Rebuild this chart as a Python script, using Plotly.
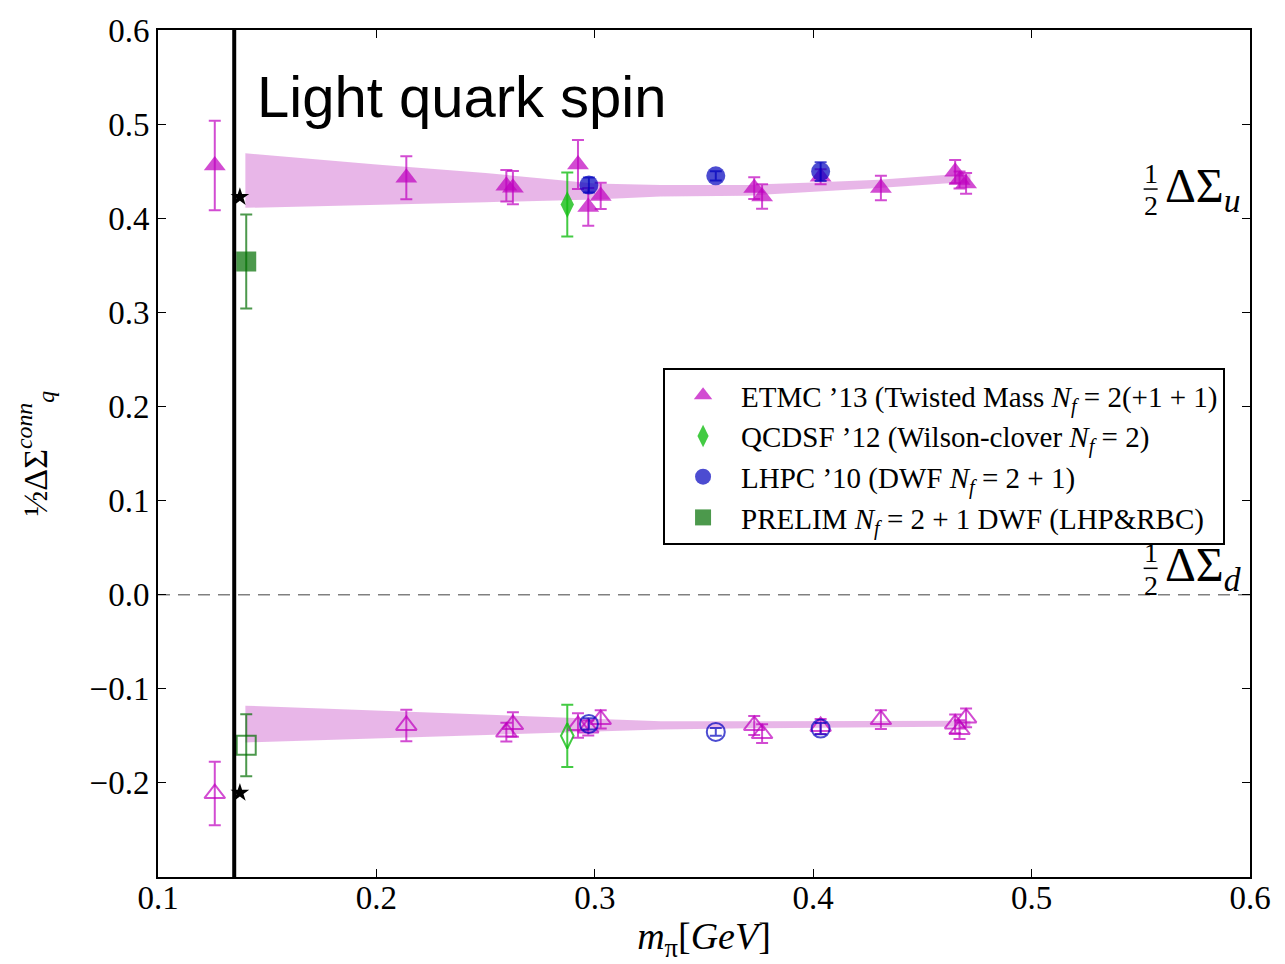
import plotly.graph_objects as go

# ---- data -------------------------------------------------------------
# ETMC '13, twisted mass (upper: u quark, lower: d quark)
etmc_mpi = [0.126, 0.2137, 0.2595, 0.2625, 0.2923, 0.297, 0.3027,
            0.373, 0.3766, 0.4034, 0.431, 0.465, 0.467, 0.470]
etmc_u = [0.456, 0.443, 0.4345, 0.4325, 0.457, 0.412, 0.4237,
          0.432, 0.423, 0.444, 0.432, 0.4495, 0.4407, 0.437]
etmc_u_err = [0.0475, 0.0228, 0.0168, 0.0177, 0.026, 0.02, 0.014,
              0.0115, 0.013, 0.008, 0.013, 0.0124, 0.009, 0.011]
etmc_d = [-0.2113, -0.139, -0.146, -0.138, -0.139, -0.1416, -0.1326,
          -0.139, -0.1476, -0.140, -0.1327, -0.1373, -0.1434, -0.131]
etmc_d_err = [0.0337, 0.0168, 0.010, 0.013, 0.013, 0.008, 0.0097,
              0.010, 0.010, 0.008, 0.010, 0.010, 0.010, 0.010]

# QCDSF '12, Wilson-clover
qcdsf_mpi = [0.2874]
qcdsf_u = [0.4145]
qcdsf_u_err = [0.034]
qcdsf_d = [-0.150]
qcdsf_d_err = [0.033]

# LHPC '10, domain wall fermions
lhpc_mpi = [0.2973, 0.3554, 0.4034]
lhpc_u = [0.4354, 0.445, 0.4496]
lhpc_u_err = [0.008, 0.005, 0.010]
lhpc_d = [-0.1373, -0.1458, -0.1423]
lhpc_d_err = [0.006, 0.004, 0.006]

# preliminary LHP&RBC, DWF at the physical point
prelim_mpi = [0.1404]
prelim_u = [0.354]
prelim_u_err = [0.050]
prelim_d = [-0.160]
prelim_d_err = [0.033]

# experimental / phenomenological values at the physical pion mass
star_mpi = [0.1375, 0.1375]
star_val = [0.4226, -0.2106]

M_PI_PHYS = 0.1349

# chiral-fit bands
band_mpi = [0.140, 0.20, 0.25, 0.30, 0.33, 0.37, 0.40, 0.43, 0.46, 0.472]
band_u_hi = [0.469, 0.457, 0.448, 0.437, 0.4354, 0.4354, 0.438, 0.441, 0.446, 0.447]
band_u_lo = [0.411, 0.414, 0.417, 0.420, 0.423, 0.424, 0.428, 0.432, 0.437, 0.438]
band_d_hi = [-0.118, -0.123, -0.1275, -0.132, -0.1345, -0.1345, -0.1345, -0.1345, -0.1345, -0.134]
band_d_lo = [-0.157, -0.1526, -0.149, -0.1455, -0.1434, -0.142, -0.1415, -0.141, -0.1405, -0.140]

x_ticks = [0.1, 0.2, 0.3, 0.4, 0.5, 0.6]
y_ticks = [-0.2, -0.1, 0.0, 0.1, 0.2, 0.3, 0.4, 0.5, 0.6]

# ---- styles -----------------------------------------------------------
MAGENTA = "rgba(191,0,191,0.7)"
BAND = "rgba(200,80,200,0.42)"
LIME = "rgba(20,190,20,0.8)"
BLUE = "rgba(0,0,190,0.7)"
DKGREEN = "rgba(0,110,0,0.7)"
SERIF = "Liberation Serif"

fig = go.Figure()


def band(xs, hi, lo):
    fig.add_trace(go.Scatter(x=xs, y=hi, mode="lines", line=dict(width=0),
                             showlegend=False, hoverinfo="skip"))
    fig.add_trace(go.Scatter(x=xs, y=lo, mode="lines", line=dict(width=0),
                             fill="tonexty", fillcolor=BAND,
                             showlegend=False, hoverinfo="skip"))


band(band_mpi, band_u_hi, band_u_lo)
band(band_mpi, band_d_hi, band_d_lo)


def points(xs, ys, errs, color, symbol, size, name=None, open_=False, group=None):
    marker = dict(symbol=symbol + ("-open" if open_ else ""), size=size,
                  color=color, line=dict(width=2, color=color) if open_ else dict(width=0))
    fig.add_trace(go.Scatter(
        x=xs, y=ys, mode="markers", name=name, legendgroup=group,
        showlegend=name is not None,
        marker=marker,
        error_y=dict(type="data", array=errs, visible=True,
                     color=color, thickness=2, width=6),
    ))


points(etmc_mpi, etmc_u, etmc_u_err, MAGENTA, "triangle-up", 19,
       "ETMC ’13 (Twisted Mass <i>N<sub>f</sub></i> = 2(+1 + 1)", group="a")
points(qcdsf_mpi, qcdsf_u, qcdsf_u_err, LIME, "diamond-tall", 19,
       "QCDSF ’12 (Wilson-clover <i>N<sub>f</sub></i> = 2)", group="b")
points(lhpc_mpi, lhpc_u, lhpc_u_err, BLUE, "circle", 19,
       "LHPC ’10 (DWF <i>N<sub>f</sub></i> = 2 + 1)", group="c")
points(prelim_mpi, prelim_u, prelim_u_err, DKGREEN, "square", 20,
       "PRELIM <i>N<sub>f</sub></i> = 2 + 1 DWF (LHP&amp;RBC)", group="d")

points(etmc_mpi, etmc_d, etmc_d_err, MAGENTA, "triangle-up", 18, open_=True)
points(qcdsf_mpi, qcdsf_d, qcdsf_d_err, LIME, "diamond-tall", 18, open_=True)
points(lhpc_mpi, lhpc_d, lhpc_d_err, BLUE, "circle", 18, open_=True)
points(prelim_mpi, prelim_d, prelim_d_err, DKGREEN, "square", 19, open_=True)

# physical pion mass
fig.add_shape(type="line", xref="x", yref="paper", x0=M_PI_PHYS, x1=M_PI_PHYS,
              y0=0, y1=1, line=dict(color="black", width=4), layer="above")
# zero line
fig.add_shape(type="line", xref="paper", yref="y", x0=0, x1=1, y0=0, y1=0,
              line=dict(color="gray", width=1.5, dash="12px,8px"), layer="below")

fig.add_trace(go.Scatter(x=star_mpi, y=star_val, mode="markers", showlegend=False,
                         marker=dict(symbol="star", size=14, color="black")))

# title inside the axes
fig.add_annotation(x=0.1444, y=0.529, xref="x", yref="y", xanchor="left",
                   yanchor="middle", text="Light quark spin", showarrow=False,
                   font=dict(family="Liberation Sans", size=58, color="black"))


# right-hand labels:  1/2 ΔΣ_q
def half_delta_sigma(yc, sub):
    fig.add_annotation(x=0.9935, y=yc, xref="paper", yref="y", xanchor="right",
                       yanchor="middle", showarrow=False,
                       text="ΔΣ<sub><i>%s</i></sub>" % sub,
                       font=dict(family=SERIF, size=48, color="black"))
    fig.add_annotation(x=0.9090, y=yc + 0.017, xref="paper", yref="y",
                       xanchor="center", yanchor="middle", showarrow=False,
                       text="1", font=dict(family=SERIF, size=28, color="black"))
    fig.add_annotation(x=0.9090, y=yc - 0.018, xref="paper", yref="y",
                       xanchor="center", yanchor="middle", showarrow=False,
                       text="2", font=dict(family=SERIF, size=28, color="black"))
    fig.add_shape(type="line", xref="paper", yref="y", x0=0.9026, x1=0.9154,
                  y0=yc, y1=yc, line=dict(color="black", width=1.5))


half_delta_sigma(0.431, "u")
half_delta_sigma(0.028, "d")

axis_common = dict(showline=True, linecolor="black", linewidth=2, mirror="allticks",
                   ticks="inside", ticklen=8, tickwidth=1.2, tickcolor="black",
                   showgrid=False, zeroline=False,
                   tickfont=dict(family=SERIF, size=33, color="black"))

fig.update_xaxes(range=[0.1, 0.6], tickvals=x_ticks,
                 ticktext=["%.1f" % v for v in x_ticks],
                 ticklabelstandoff=-10,
                 title=dict(text="<i>m</i><sub>π</sub>[<i>GeV</i>]", standoff=8,
                            font=dict(family=SERIF, size=38, color="black")),
                 **axis_common)
fig.update_yaxes(range=[-0.3, 0.6], tickvals=y_ticks,
                 ticktext=[("−%.1f" % -v) if v < 0 else "%.1f" % v for v in y_ticks],
                 title=dict(text="½ΔΣ<sup><i>conn</i></sup><sub><i>q</i></sub>", standoff=32,
                            font=dict(family=SERIF, size=34, color="black")),
                 **axis_common)

fig.update_layout(
    width=1285, height=964,
    margin=dict(l=158, r=35, t=30, b=87),
    plot_bgcolor="white", paper_bgcolor="white",
    legend=dict(x=0.4625, y=0.601, xanchor="left", yanchor="top",
                bgcolor="white", bordercolor="black", borderwidth=2,
                font=dict(family=SERIF, size=29, color="black"),
                tracegroupgap=0, itemsizing="trace", itemwidth=66),
)

fig.write_html("out.html")
